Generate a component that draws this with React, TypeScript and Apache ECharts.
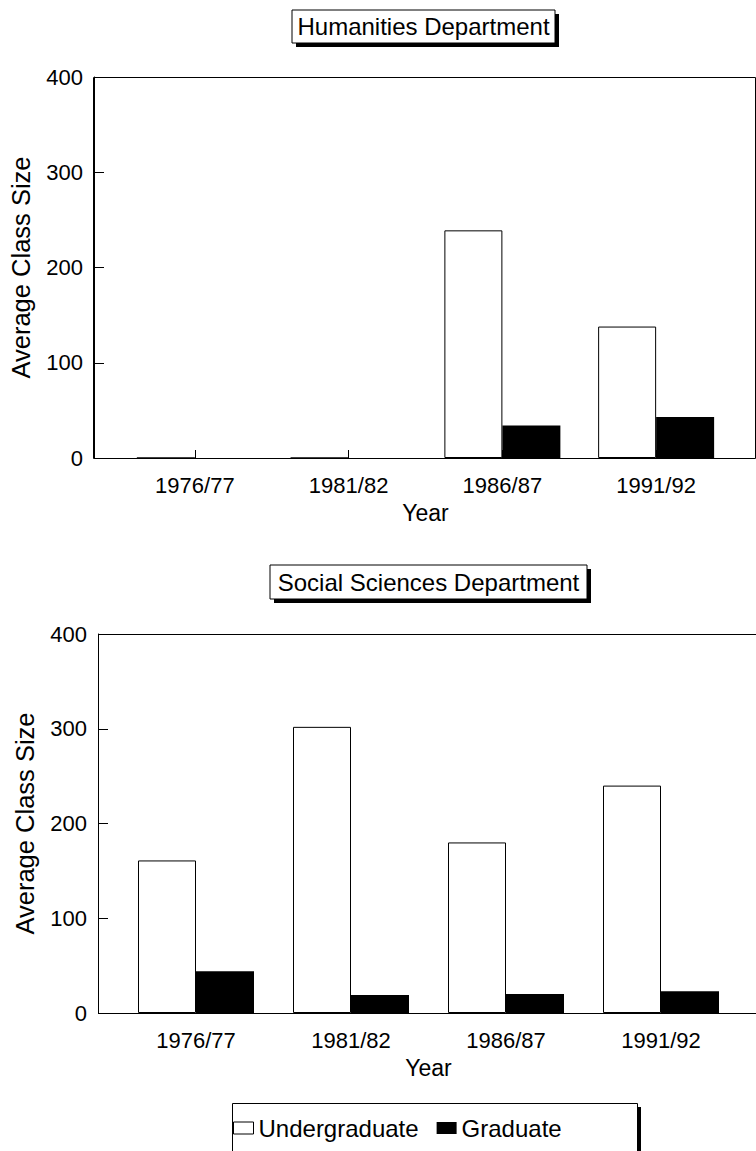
import React, { useEffect, useRef } from "react";
import * as echarts from "echarts";

const categories = ["1976/77", "1981/82", "1986/87", "1991/92"];
const humUndergraduate = [0, 0, 239, 138];
const humGraduate = [0, 0, 34, 43];
const socUndergraduate = [161, 302, 180, 240];
const socGraduate = [44, 19, 20, 23];
const yMin = 0;
const yMax = 400;
const yInterval = 100;

const FONT = "'Liberation Sans', Arial, Helvetica, sans-serif";

function makeX(gridIndex: number) {
  return {
    type: "category",
    gridIndex,
    data: categories,
    axisLine: { show: true, lineStyle: { color: "#000", width: 1 } },
    axisTick: { show: true, inside: true, alignWithLabel: true, length: 8, lineStyle: { color: "#000" } },
    axisLabel: { fontSize: 22, color: "#000", margin: 16, fontFamily: FONT },
    name: "Year",
    nameLocation: "middle",
    nameGap: 43,
    nameTextStyle: { fontSize: 23, color: "#000", fontFamily: FONT },
  };
}

function makeY(gridIndex: number, offset: number) {
  return {
    type: "value",
    gridIndex,
    min: yMin,
    max: yMax,
    interval: yInterval,
    offset,
    axisLine: { show: true, lineStyle: { color: "#000", width: 1 } },
    axisTick: { show: true, inside: true, length: 10, lineStyle: { color: "#000" } },
    splitLine: { show: false },
    axisLabel: { fontSize: 22, color: "#000", margin: 11, fontFamily: FONT },
    name: "Average Class Size",
    nameLocation: "middle",
    nameGap: 60,
    nameTextStyle: { fontSize: 25.5, color: "#000", fontFamily: FONT },
  };
}

function titleBox(x: number, y: number, w: number, h: number, label: string) {
  return [
    { type: "rect", shape: { x: x + 4, y: y + 4, width: w, height: h }, style: { fill: "#000" }, z: 10 },
    { type: "rect", shape: { x, y, width: w, height: h }, style: { fill: "#fff", stroke: "#000", lineWidth: 1 }, z: 11 },
    {
      type: "text",
      x: x + w / 2,
      y: y + h / 2,
      style: { text: label, fontSize: 24, fontFamily: FONT, fill: "#000", align: "center", verticalAlign: "middle" },
      z: 12,
    },
  ];
}

export default function App() {
  const ref = useRef<HTMLDivElement>(null);
  useEffect(() => {
    document.body.style.margin = "0";
    const chart = echarts.init(ref.current!, undefined, { renderer: "svg" });
    const undergradStyle = { color: "#fff", borderColor: "#000", borderWidth: 1 };
    const gradStyle = { color: "#000" };
    chart.setOption({
      animation: false,
      textStyle: { fontFamily: FONT, color: "#000" },
      grid: [
        { left: 117, top: 77, width: 616, height: 381 },
        { left: 118.5, top: 634, width: 620, height: 379 },
      ],
      xAxis: [makeX(0), makeX(1)],
      yAxis: [makeY(0, 24), makeY(1, 20.5)],
      legend: {
        left: 228,
        top: 1111,
        itemWidth: 20,
        itemHeight: 12,
        itemGap: 18,
        icon: "rect",
        textStyle: { fontSize: 24, color: "#000", fontFamily: FONT },
        data: [
          { name: "Undergraduate", itemStyle: undergradStyle },
          { name: "Graduate", itemStyle: gradStyle },
        ],
      },
      series: [
        { name: "Undergraduate", type: "bar", xAxisIndex: 0, yAxisIndex: 0, data: humUndergraduate, barWidth: 58, barGap: "0%", itemStyle: undergradStyle },
        { name: "Graduate", type: "bar", xAxisIndex: 0, yAxisIndex: 0, data: humGraduate, barWidth: 58, barGap: "0%", itemStyle: gradStyle },
        { name: "Undergraduate", type: "bar", xAxisIndex: 1, yAxisIndex: 1, data: socUndergraduate, barWidth: 58, barGap: "0%", itemStyle: undergradStyle },
        { name: "Graduate", type: "bar", xAxisIndex: 1, yAxisIndex: 1, data: socGraduate, barWidth: 58, barGap: "0%", itemStyle: gradStyle },
      ],
      graphic: [
        { type: "rect", shape: { x: 93.5, y: 77.5, width: 662, height: 381 }, style: { fill: "none", stroke: "#000", lineWidth: 1 }, z: 5 },
        { type: "rect", shape: { x: 98.5, y: 634.5, width: 664, height: 379 }, style: { fill: "none", stroke: "#000", lineWidth: 1 }, z: 5 },
        ...titleBox(292, 10, 263, 33, "Humanities Department"),
        ...titleBox(270, 565, 317, 34, "Social Sciences Department"),
        { type: "rect", shape: { x: 232.5, y: 1103.5, width: 405, height: 80 }, style: { fill: "none", stroke: "#000", lineWidth: 1 }, z: 5 },
        { type: "rect", shape: { x: 637, y: 1107, width: 4, height: 60 }, style: { fill: "#000" }, z: 5 },
      ],
    });
    return () => chart.dispose();
  }, []);
  return <div ref={ref} style={{ width: 756, height: 1151 }} />;
}
